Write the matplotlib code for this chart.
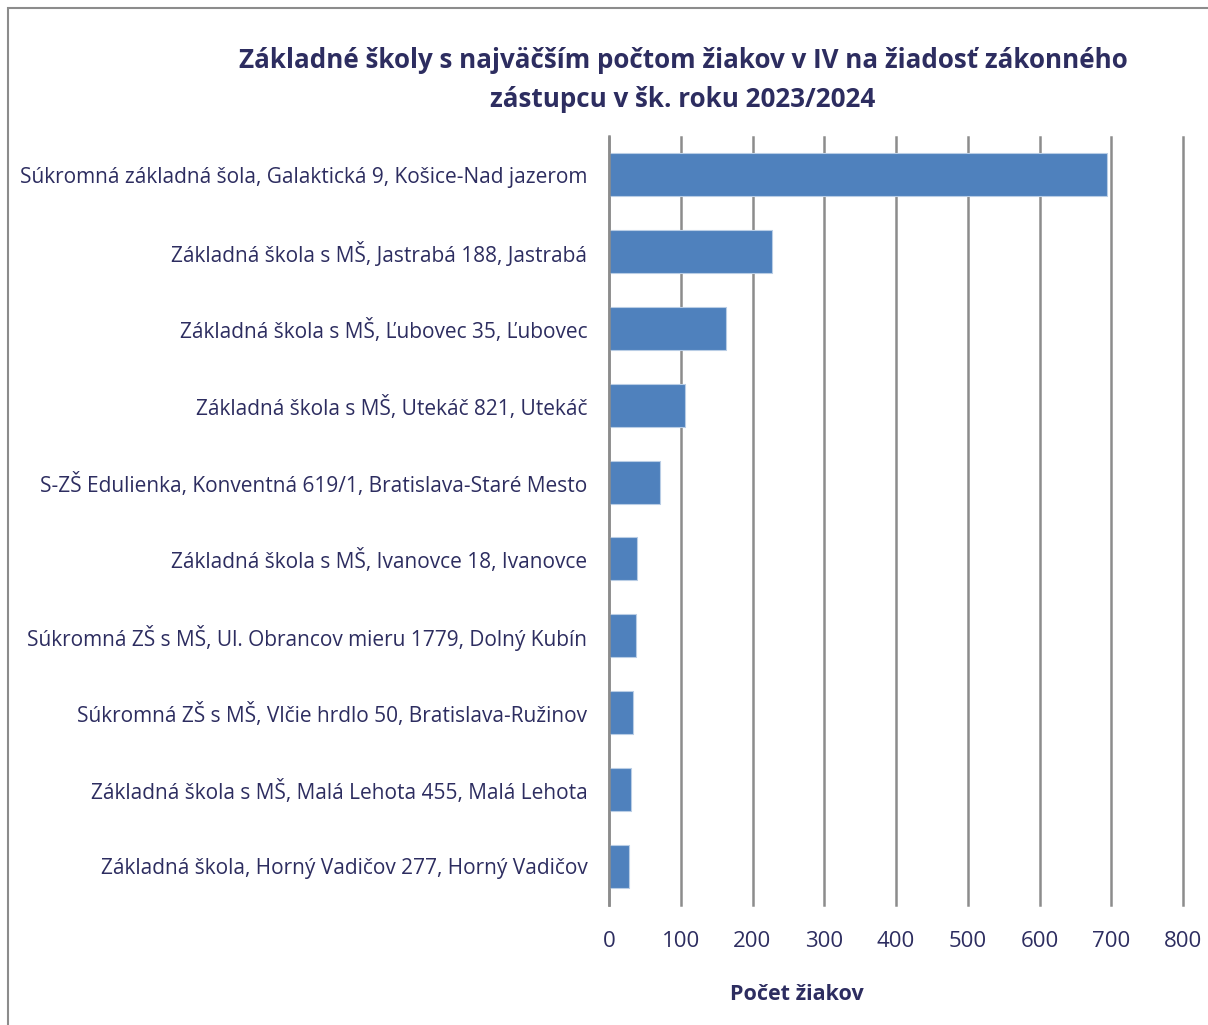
import matplotlib
matplotlib.use("Agg")
import matplotlib.pyplot as plt
from matplotlib.patches import Rectangle

schools = [
    "Súkromná základná šola, Galaktická 9, Košice-Nad jazerom",
    "Základná škola s MŠ, Jastrabá 188, Jastrabá",
    "Základná škola s MŠ, Ľubovec 35, Ľubovec",
    "Základná škola s MŠ, Utekáč 821, Utekáč",
    "S-ZŠ Edulienka, Konventná 619/1, Bratislava-Staré Mesto",
    "Základná škola s MŠ, Ivanovce 18, Ivanovce",
    "Súkromná ZŠ s MŠ, Ul. Obrancov mieru 1779, Dolný Kubín",
    "Súkromná ZŠ s MŠ, Vlčie hrdlo 50, Bratislava-Ružinov",
    "Základná škola s MŠ, Malá Lehota 455, Malá Lehota",
    "Základná škola, Horný Vadičov 277, Horný Vadičov",
]
pupils = [694, 227, 163, 106, 71, 39, 38, 33, 30, 28]
xticks = [0, 100, 200, 300, 400, 500, 600, 700, 800]

title = "Základné školy s najväčším počtom žiakov v IV na žiadosť zákonného\nzástupcu v šk. roku 2023/2024"
xlabel = "Počet žiakov"

navy = "#2d2d60"
plt.rcParams['font.family'] = ['Open Sans', 'DejaVu Sans']

fig = plt.figure(figsize=(12.08, 10.25), dpi=100)
ax = fig.add_axes([609/1208, 1 - 904.5/1025, (1183-609)/1208, (904.5-136.5)/1025])

# outer frame (partially visible)
fig.patches.append(Rectangle((8/1208, -0.1), 1.2, 1 - 8/1025 + 0.1,
                             transform=fig.transFigure, fill=False,
                             edgecolor="#8c8c8c", linewidth=1.5))

y = list(range(len(schools)))
ax.barh(y, pupils, height=0.56, color="#4f81bd", edgecolor="#b9cde5", linewidth=0.8, zorder=3)
ax.set_ylim(len(schools) - 0.5, -0.5)
ax.set_xlim(0, 800)
ax.set_xticks(xticks)
ax.set_xticklabels([str(t) for t in xticks], fontsize=16, color=navy)
ax.set_yticks(y)
ax.set_yticklabels(schools, fontsize=15, color=navy)
ax.tick_params(axis='y', length=0, pad=15.5)
ax.tick_params(axis='x', length=0, pad=19)
ax.grid(axis='x', color="#8c8c8c", linewidth=1.8, zorder=0)
for gl in ax.get_xgridlines():
    gl.set_clip_on(False)
for s in ['top', 'right', 'bottom']:
    ax.spines[s].set_visible(False)
ax.spines['left'].set_color("#8c8c8c")
ax.spines['left'].set_linewidth(1.8)
ax.spines['left'].set_zorder(4)
ax.set_xlabel(xlabel, fontsize=15.5, fontweight='bold', color=navy)
ax.xaxis.label.set_va('center')
ax.xaxis.set_label_coords((797-609)/(1183-609), -(994-904.5)/768, transform=ax.transAxes)

fig.text(683/1208, 1 - 80/1025, title, ha='center', va='center', fontsize=18.7,
         fontweight='bold', color=navy, linespacing=1.6)

fig.savefig("out.png", dpi=100)
